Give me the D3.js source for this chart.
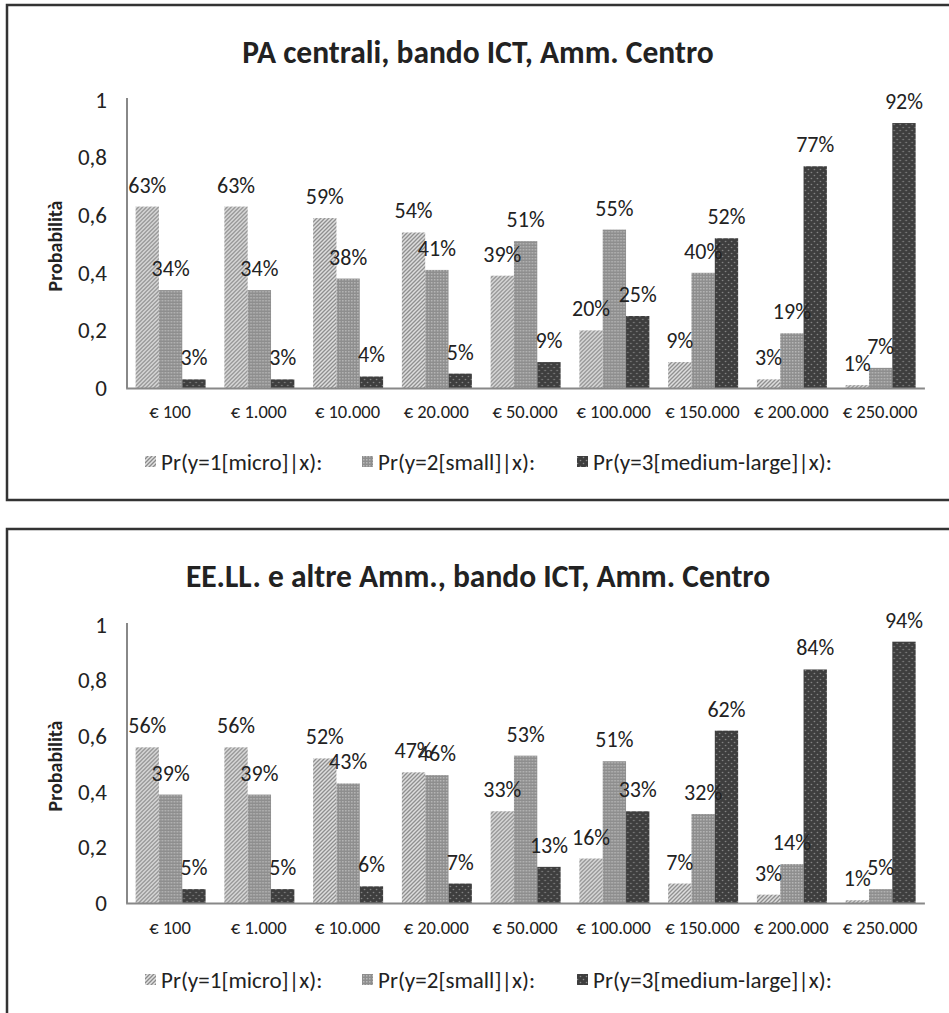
<!DOCTYPE html>
<html>
<head>
  <meta charset="utf-8">
  <script src="https://d3js.org/d3.v7.min.js"></script>
  <style>
    body { margin:0; background:#fff; }
    text { font-family: Carlito, Lato, sans-serif; fill:#222; }
    .title { font-size:31.5px; font-weight:bold; }
    .ylab { font-size:20px; font-weight:bold; }
    .val { font-size:22px; }
    .y.axis text { font-size:23px; fill:#222; font-family: Carlito, Lato, sans-serif; }
    .x.axis text { font-size:18.5px; fill:#222; font-family: Carlito, Lato, sans-serif; }
    .axis path { stroke:#888; stroke-width:2; }
    .legend text { font-size:23px; }
  </style>
</head>
<body>
  <script>
    // categories (importo del bando)
    var categories = ["€ 100", "€ 1.000", "€ 10.000", "€ 20.000", "€ 50.000",
                      "€ 100.000", "€ 150.000", "€ 200.000", "€ 250.000"];
    var seriesNames = ["Pr(y=1[micro]|x):", "Pr(y=2[small]|x):", "Pr(y=3[medium-large]|x):"];
    var yTicks = [0, 0.2, 0.4, 0.6, 0.8, 1];

    // chart 1: PA centrali
    var paMicro  = [0.63, 0.63, 0.59, 0.54, 0.39, 0.20, 0.09, 0.03, 0.01];
    var paSmall  = [0.34, 0.34, 0.38, 0.41, 0.51, 0.55, 0.40, 0.19, 0.07];
    var paMedium = [0.03, 0.03, 0.04, 0.05, 0.09, 0.25, 0.52, 0.77, 0.92];

    // chart 2: EE.LL. e altre Amm.
    var eeMicro  = [0.56, 0.56, 0.52, 0.47, 0.33, 0.16, 0.07, 0.03, 0.01];
    var eeSmall  = [0.39, 0.39, 0.43, 0.46, 0.53, 0.51, 0.32, 0.14, 0.05];
    var eeMedium = [0.05, 0.05, 0.06, 0.07, 0.13, 0.33, 0.62, 0.84, 0.94];

    var svg = d3.select("body").append("svg")
        .attr("width", 949)
        .attr("height", 1013);

    // fill patterns, like the Excel b/w ones
    var defs = svg.append("defs");
    var p1 = defs.append("pattern").attr("id", "pat0")
        .attr("patternUnits", "userSpaceOnUse").attr("width", 4).attr("height", 4);
    p1.append("rect").attr("width", 4).attr("height", 4).attr("fill", "#e2e2e2");
    p1.append("path").attr("d", "M0,4 L4,0 M-1,1 L1,-1 M3,5 L5,3")
        .attr("stroke", "#8a8a8a").attr("stroke-width", 1.3);

    var p2 = defs.append("pattern").attr("id", "pat1")
        .attr("patternUnits", "userSpaceOnUse").attr("width", 3).attr("height", 3);
    p2.append("rect").attr("width", 3).attr("height", 3).attr("fill", "#8e8e8e");
    p2.append("rect").attr("width", 1.5).attr("height", 1.5).attr("fill", "#b8b8b8");

    var p3 = defs.append("pattern").attr("id", "pat2")
        .attr("patternUnits", "userSpaceOnUse").attr("width", 6).attr("height", 6);
    p3.append("rect").attr("width", 6).attr("height", 6).attr("fill", "#3e3e3e");
    p3.append("circle").attr("cx", 1.5).attr("cy", 1.5).attr("r", 0.8).attr("fill", "#8a8a8a");
    p3.append("circle").attr("cx", 4.5).attr("cy", 4.5).attr("r", 0.8).attr("fill", "#8a8a8a");

    function drawChart(top, title, series, y0, y1, xLabY, legY) {
      var g = svg.append("g");

      g.append("rect")
          .attr("x", 7).attr("y", top)
          .attr("width", 960).attr("height", 495)
          .attr("fill", "none").attr("stroke", "#333").attr("stroke-width", 2.5);

      g.append("text").attr("class", "title")
          .attr("x", 478).attr("y", top + 58)
          .attr("text-anchor", "middle")
          .text(title);

      var x0 = d3.scaleBand().domain(categories).range([125.6, 924.4]);
      var x1 = d3.scaleBand().domain([0, 1, 2]).range([10, 80]);
      var y = d3.scaleLinear().domain([0, 1]).range([y0, y1]);

      var table = categories.map(function(c, i) {
        return { cat: c, vals: series.map(function(s) { return s[i]; }) };
      });

      var groups = g.selectAll(".grp")
          .data(table)
          .enter().append("g")
          .attr("transform", d => "translate(" + x0(d.cat) + ",0)");

      groups.selectAll("rect")
          .data(d => d.vals.map((v, k) => ({ k: k, v: v })))
          .enter().append("rect")
          .attr("x", d => x1(d.k))
          .attr("width", x1.bandwidth())
          .attr("y", d => y(d.v))
          .attr("height", d => y0 - y(d.v))
          .attr("fill", d => "url(#pat" + d.k + ")");

      groups.selectAll(".val")
          .data(d => d.vals.map((v, k) => ({ k: k, v: v })))
          .enter().append("text")
          .attr("class", "val")
          .attr("x", d => x1(d.k) + x1.bandwidth() / 2)
          .attr("y", d => y(d.v) - 14)
          .attr("text-anchor", "middle")
          .text(d => Math.round(d.v * 100) + "%");

      var yAxis = d3.axisLeft(y).tickValues(yTicks).tickSize(0).tickPadding(20)
          .tickFormat(d => String(d).replace(".", ","));
      g.append("g").attr("class", "y axis")
          .attr("transform", "translate(127,0)")
          .call(yAxis)
          .call(a => a.select(".domain").attr("d", "M0," + (y1 - 2) + "V" + y0));

      var xAxis = d3.axisBottom(x0).tickSize(0).tickPadding(xLabY - y0 - 7);
      g.append("g").attr("class", "x axis")
          .attr("transform", "translate(0," + y0 + ")")
          .call(xAxis);

      g.append("text").attr("class", "ylab")
          .attr("transform", "translate(62," + ((y0 + y1) / 2 + 2) + ") rotate(-90)")
          .attr("text-anchor", "middle")
          .text("Probabilità");

      var legX = [145, 362, 577];
      var leg = g.append("g").attr("class", "legend");
      seriesNames.forEach(function(name, k) {
        leg.append("rect")
            .attr("x", legX[k]).attr("y", legY - 6)
            .attr("width", 11).attr("height", 11)
            .attr("fill", "url(#pat" + k + ")");
        leg.append("text")
            .attr("x", legX[k] + 16).attr("y", legY + 8)
            .text(name);
      });
    }

    drawChart(5, "PA centrali, bando ICT, Amm. Centro",
        [paMicro, paSmall, paMedium], 388, 100, 412, 462);
    drawChart(529, "EE.LL. e altre Amm., bando ICT, Amm. Centro",
        [eeMicro, eeSmall, eeMedium], 903, 625, 928, 980);
  </script>
</body>
</html>
